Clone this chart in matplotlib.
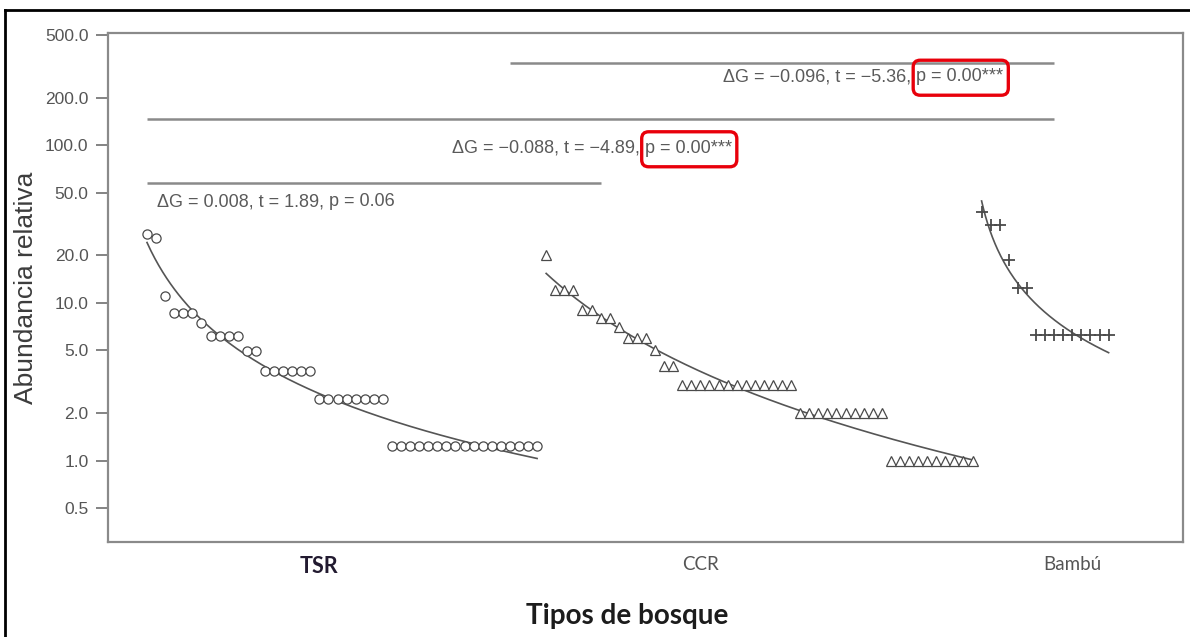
import numpy as np
import matplotlib
matplotlib.use("Agg")
import matplotlib.pyplot as plt
from matplotlib.lines import Line2D
from matplotlib.patches import FancyBboxPatch
from matplotlib.transforms import IdentityTransform

# ---------------- data ----------------
groups = ["TSR", "CCR", "Bambú"]

tsr_abund = [27.2, 25.9, 11.1, 8.64, 8.64, 8.64, 7.41,
             6.17, 6.17, 6.17, 6.17, 4.94, 4.94,
             3.70, 3.70, 3.70, 3.70, 3.70, 3.70,
             2.47, 2.47, 2.47, 2.47, 2.47, 2.47, 2.47, 2.47,
             1.23, 1.23, 1.23, 1.23, 1.23, 1.23, 1.23, 1.23, 1.23,
             1.23, 1.23, 1.23, 1.23, 1.23, 1.23, 1.23, 1.23]

ccr_abund = [20.0, 12.0, 12.0, 12.0, 9.0, 9.0, 8.0, 8.0, 7.0,
             6.0, 6.0, 6.0, 5.0, 4.0, 4.0,
             3.0, 3.0, 3.0, 3.0, 3.0, 3.0, 3.0, 3.0, 3.0, 3.0, 3.0, 3.0, 3.0,
             2.0, 2.0, 2.0, 2.0, 2.0, 2.0, 2.0, 2.0, 2.0, 2.0,
             1.0, 1.0, 1.0, 1.0, 1.0, 1.0, 1.0, 1.0, 1.0, 1.0]

bambu_abund = [37.5, 31.25, 31.25, 18.75, 12.5, 12.5,
               6.25, 6.25, 6.25, 6.25, 6.25, 6.25, 6.25, 6.25, 6.25]

y_ticks = [0.5, 1.0, 2.0, 5.0, 10.0, 20.0, 50.0, 100.0, 200.0, 500.0]
y_tick_labels = ["0.5", "1.0", "2.0", "5.0", "10.0", "20.0", "50.0",
                 "100.0", "200.0", "500.0"]

# pairwise comparisons: rank span, bar level, statistics text, p text
comp_start = [0, 0, 40]
comp_end = [50, 100, 100]
comp_level = [58, 146, 330]
comp_stats = ["ΔG = 0.008, t = 1.89, ", "ΔG = \u22120.088, t = \u22124.89, ",
              "ΔG = \u22120.096, t = \u22125.36, "]
comp_p = ["p = 0.06", "p = 0.00***", "p = 0.00***"]
comp_highlight = [False, True, True]


def zipf_mandelbrot_fit(r, y):
    """Least-squares fit of log10(y) = a + s*log10(r + b) (grid search on b)."""
    ly = np.log10(y)
    best = None
    for b in np.linspace(0.2, 60, 600):
        X = np.log10(r + b)
        coef = np.polyfit(X, ly, 1)
        res = np.sum((np.polyval(coef, X) - ly) ** 2)
        if best is None or res < best[0]:
            best = (res, b, coef)
    return best[1], best[2]


# ---------------- layout ----------------
W, H = 1190, 637
fig = plt.figure(figsize=(W / 100, H / 100), dpi=100)
fig.patch.set_facecolor("white")
ax = fig.add_axes([108 / W, 1 - 542 / H, (1183 - 108) / W, (542 - 33) / H])

sans = ["Liberation Sans", "DejaVu Sans"]
label_font = ["Lato", "DejaVu Sans"]

series = [tsr_abund, ccr_abund, bambu_abund]
markers = ["o", "^", "+"]
msizes = [6.6, 7.4, 9.0]
start = 0
for vals, mk, ms in zip(series, markers, msizes):
    y = np.asarray(vals, dtype=float)
    r = np.arange(len(y), dtype=float)
    x = start + r
    if mk == "+":
        ax.plot(x, y, linestyle="none", marker=mk, ms=ms, mew=1.3, color="#4a4a4a")
    else:
        ax.plot(x, y, linestyle="none", marker=mk, ms=ms, mfc="white",
                mec="#4a4a4a", mew=0.9)
    # fitted rank-abundance curve (fitted from the points)
    b, coef = zipf_mandelbrot_fit(r, y)
    rf = np.linspace(r[0], r[-1], 200)
    ax.plot(start + rf, 10 ** np.polyval(coef, np.log10(rf + b)),
            color="#555555", lw=1.2, zorder=1)
    start += len(y)

ax.set_yscale("log")
ax.set_ylim(0.305, 515)
ax.set_xlim(-4.3, 114.2)
ax.set_yticks(y_ticks)
ax.set_yticklabels(y_tick_labels)
ax.yaxis.set_minor_locator(matplotlib.ticker.NullLocator())
ax.tick_params(axis="y", direction="out", length=9, width=1.3, color="#7a7a7a",
               labelsize=12.5, labelcolor="#555555", pad=5)
for lab in ax.get_yticklabels():
    lab.set_family(sans)

label_pos = [19, 61, 102]
ax.set_xticks(label_pos)
ax.set_xticklabels(groups)
ax.tick_params(axis="x", length=0, pad=10)
for lab, w, c, s in zip(ax.get_xticklabels(), ["bold", "normal", "normal"],
                        ["#221a30", "#555555", "#555555"], [15.5, 13.5, 13.5]):
    lab.set_family(label_font)
    lab.set_fontweight(w)
    lab.set_color(c)
    lab.set_fontsize(s)

for sp in ax.spines.values():
    sp.set_color("#8a8a8a")
    sp.set_linewidth(1.6)

ax.set_ylabel("Abundancia relativa", family=sans, fontsize=19, color="#3c3c3c",
              labelpad=5)
fig.text(627 / W, 1 - 616 / H, "Tipos de bosque", family=label_font,
         fontweight="bold", fontsize=20, color="#1c1c1c", ha="center", va="center")

# comparison bars and texts
text_x = [1.1, 33.6, 63.5]
text_y = [43.8, 95.7, 272]
p_texts = []
for i in range(3):
    ax.plot([comp_start[i], comp_end[i]], [comp_level[i], comp_level[i]],
            color="#8a8a8a", lw=1.8, solid_capstyle="butt")
    t1 = ax.text(text_x[i], text_y[i], comp_stats[i], family=sans, fontsize=13,
                 color="#5a5a5a", ha="left", va="center")
    t2 = ax.annotate(comp_p[i], xy=(1, 0.5), xycoords=t1, family=sans,
                     fontsize=13, color="#5a5a5a", ha="left", va="center")
    if comp_highlight[i]:
        p_texts.append(t2)

fig.canvas.draw()
for t in p_texts:
    bb = t.get_window_extent()
    box = FancyBboxPatch((bb.x0 - 3, bb.y0 - 10), bb.width + 8, bb.height + 18,
                         boxstyle="round,pad=0,rounding_size=7",
                         transform=IdentityTransform(), fc="none", ec="#e8000b",
                         lw=2.4, zorder=10)
    fig.add_artist(box)

# outer page border (left and top)
fig.add_artist(Line2D([5 / W, 5 / W], [0, 1 - 10 / H], transform=fig.transFigure,
                      color="black", lw=2.0))
fig.add_artist(Line2D([5 / W, 1], [1 - 10 / H, 1 - 10 / H], transform=fig.transFigure,
                      color="black", lw=2.0))

fig.savefig("out.png", dpi=100, facecolor="white")
